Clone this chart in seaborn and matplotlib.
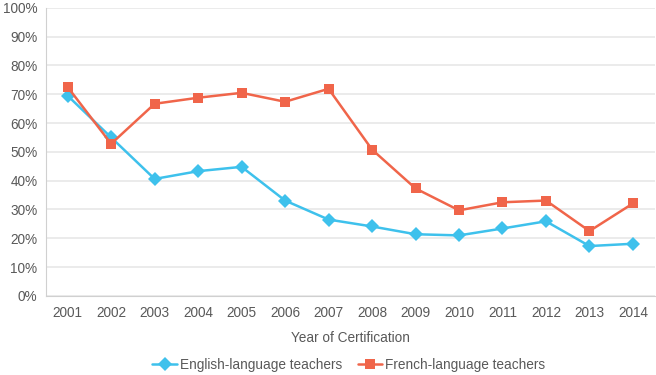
import pandas as pd
import seaborn as sns
import matplotlib.pyplot as plt
from matplotlib.ticker import FixedLocator, PercentFormatter

# datos
years = ["2001", "2002", "2003", "2004", "2005", "2006", "2007",
         "2008", "2009", "2010", "2011", "2012", "2013", "2014"]
english = [69.5, 55.0, 40.6, 43.3, 44.8, 33.1, 26.5, 24.1, 21.4, 21.0, 23.4, 25.9, 17.3, 18.1]
french = [72.5, 52.8, 66.7, 68.8, 70.5, 67.4, 71.9, 50.8, 37.3, 29.7, 32.5, 33.1, 22.5, 32.1]
series = ["English-language teachers", "French-language teachers"]

df = pd.DataFrame({
    "pos": list(range(len(years))) * 2,
    "value": english + french,
    "serie": [series[0]] * len(years) + [series[1]] * len(years),
})

sns.set_style("white")
plt.rcParams["font.family"] = ["Liberation Sans", "DejaVu Sans"]
gray = "#595959"
fs = 9.8

fig = plt.figure(figsize=(6.56, 3.75), dpi=100)
ax = fig.add_axes([0.070, 0.211, 0.928, 0.768])

colors = {series[0]: "#3EC1EC", series[1]: "#F0654A"}
markers = {series[0]: "D", series[1]: "s"}
sns.lineplot(data=df, x="pos", y="value", hue="serie", style="serie",
             palette=colors, markers=markers, dashes=False, linewidth=1.8,
             markersize=7, markeredgewidth=0, ax=ax, zorder=3)

ax.set_ylim(0, 100)
ax.set_xlim(-0.5, len(years) - 0.5)
ax.set_yticks(range(0, 101, 10))
ax.yaxis.set_major_formatter(PercentFormatter(decimals=0))
ax.set_xticks(range(len(years)))
ax.set_xticklabels(years)
ax.xaxis.set_minor_locator(FixedLocator([i - 0.5 for i in range(len(years) + 1)]))
ax.tick_params(axis="x", which="major", length=0, labelsize=fs, colors=gray, pad=7)
ax.tick_params(axis="x", which="minor", length=4, color="#D0D0D0", width=0.8)
ax.tick_params(axis="y", length=4, color="#D0D0D0", labelsize=fs, colors=gray, pad=2)
ax.yaxis.grid(True, color="#E8E8E8", linewidth=1.2)
ax.set_axisbelow(True)

for s in ["top", "right"]:
    ax.spines[s].set_visible(False)
for s in ["left", "bottom"]:
    ax.spines[s].set_color("#D0D0D0")
    ax.spines[s].set_linewidth(0.8)

ax.set_xlabel("Year of Certification", fontsize=fs, color=gray, labelpad=8)
ax.set_ylabel("")

# leyenda abajo al centro
handles, labels = ax.get_legend_handles_labels()
ax.get_legend().remove()
leg = fig.legend(handles, labels, loc="center", bbox_to_anchor=(0.532, 0.026), ncol=2,
                 frameon=False, fontsize=fs, handlelength=1.8, columnspacing=1.1,
                 handletextpad=0.25)
for t in leg.get_texts():
    t.set_color(gray)

fig.savefig("out.png", dpi=100)
